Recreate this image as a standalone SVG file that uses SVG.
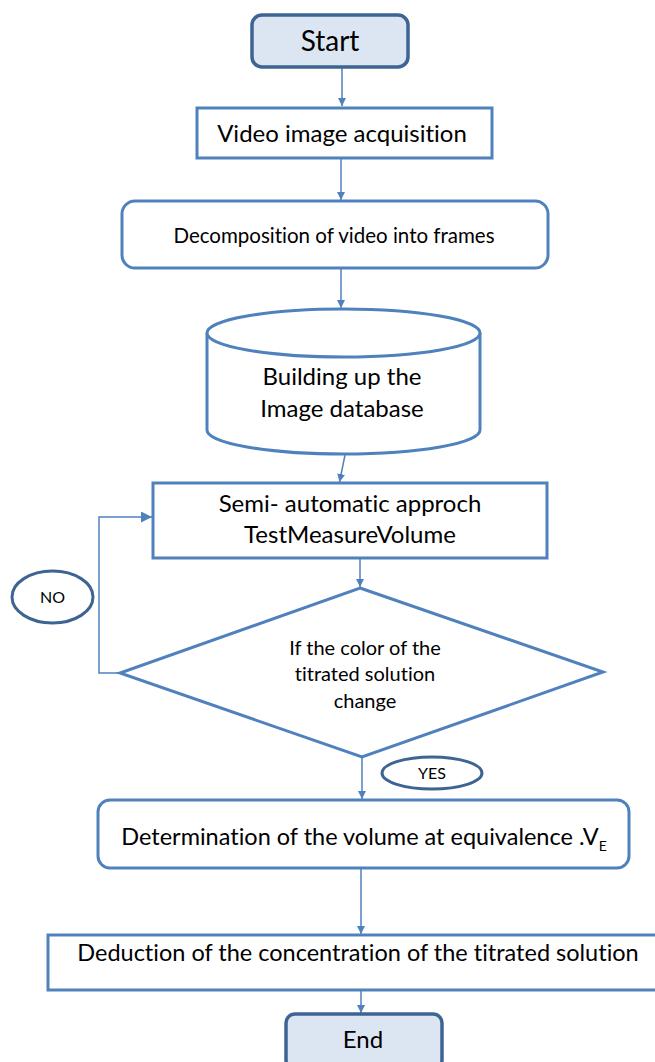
<svg xmlns="http://www.w3.org/2000/svg" width="655" height="1062" viewBox="0 0 655 1062">
<style>
.box{fill:#ffffff;stroke:#4f81bd;stroke-width:3}
.term{fill:#dce6f2;stroke:#3e6494;stroke-width:3.5}
.lbl{fill:none;stroke:#3e6494;stroke-width:3}
.con{fill:none;stroke:#4f81bd;stroke-width:1.5}
text{font-family:Lato,"Liberation Sans",sans-serif;fill:#000;text-anchor:middle;font-variant-ligatures:none}
</style>
<defs>
<marker id="ah" viewBox="0 0 10 10" refX="10" refY="5" markerWidth="8" markerHeight="8" markerUnits="userSpaceOnUse" orient="auto">
<path d="M0,0 L10,5 L0,10 z" fill="#4f81bd"/>
</marker>
<marker id="ah2" viewBox="0 0 10 10" refX="10" refY="5" markerWidth="11" markerHeight="11" markerUnits="userSpaceOnUse" orient="auto">
<path d="M0,0 L10,5 L0,10 z" fill="#4f81bd"/>
</marker>
</defs>
<g id="connectors">
<line class="con" x1="342" y1="67" x2="342" y2="106" marker-end="url(#ah)"/>
<line class="con" x1="341" y1="158" x2="341" y2="200" marker-end="url(#ah)"/>
<line class="con" x1="341" y1="268" x2="341" y2="308" marker-end="url(#ah)"/>
<line class="con" x1="345" y1="455" x2="339.5" y2="482" marker-end="url(#ah)"/>
<line class="con" x1="360" y1="558" x2="360" y2="587" marker-end="url(#ah)"/>
<polyline class="con" points="120,673 99,673 99,517 152,517" marker-end="url(#ah2)"/>
<line class="con" x1="362" y1="757" x2="362" y2="799" marker-end="url(#ah)"/>
<line class="con" x1="361" y1="868" x2="361" y2="934" marker-end="url(#ah)"/>
<line class="con" x1="361" y1="990" x2="361" y2="1013" marker-end="url(#ah)"/>
</g>
<g id="start">
<rect class="term" x="252" y="15" width="156" height="52" rx="10"/>
<text x="330" y="51" font-size="28">Start</text>
</g>
<g id="video">
<rect class="box" x="197" y="108" width="295" height="50"/>
<text x="342" y="142" font-size="24">Video image acquisition</text>
</g>
<g id="decomposition">
<rect class="box" x="122" y="201" width="426" height="67" rx="13"/>
<text x="334" y="243" font-size="20.5">Decomposition of video into frames</text>
</g>
<g id="database">
<path class="box" d="M207,333 L207,430 A136.5,24 0 0 0 480,430 L480,333"/>
<ellipse class="box" cx="343.5" cy="333" rx="136.5" ry="24"/>
<text x="342" y="385" font-size="24">Building up the</text>
<text x="342" y="417" font-size="24">Image database</text>
</g>
<g id="semi">
<rect class="box" x="153" y="483" width="394" height="75"/>
<text x="350" y="512" font-size="24">Semi- automatic approch</text>
<text x="350" y="543" font-size="24">TestMeasureVolume</text>
</g>
<g id="decision">
<polygon class="box" points="360,588 603,672 362,757 120,673"/>
<text x="365" y="655" font-size="20">If the color of the</text>
<text x="365" y="681" font-size="20">titrated solution</text>
<text x="365" y="708" font-size="20">change</text>
</g>
<g id="no">
<ellipse class="lbl" cx="52.5" cy="597" rx="40.5" ry="26"/>
<text x="52.5" y="603" font-size="16">NO</text>
</g>
<g id="yes">
<ellipse class="lbl" cx="432" cy="773" rx="50" ry="16"/>
<text x="432" y="779" font-size="16">YES</text>
</g>
<g id="determination">
<rect class="box" x="98" y="800" width="531" height="68" rx="12"/>
<text x="364" y="845" font-size="23.5">Determination of the volume at equivalence .V<tspan font-size="14" dy="6">E</tspan></text>
</g>
<g id="deduction">
<rect class="box" x="48" y="935" width="612" height="55"/>
<text x="358" y="961" font-size="23.5">Deduction of the concentration of the titrated solution</text>
</g>
<g id="end">
<rect class="term" x="286" y="1014" width="156" height="55" rx="9"/>
<text x="363" y="1048" font-size="24">End</text>
</g>
</svg>
